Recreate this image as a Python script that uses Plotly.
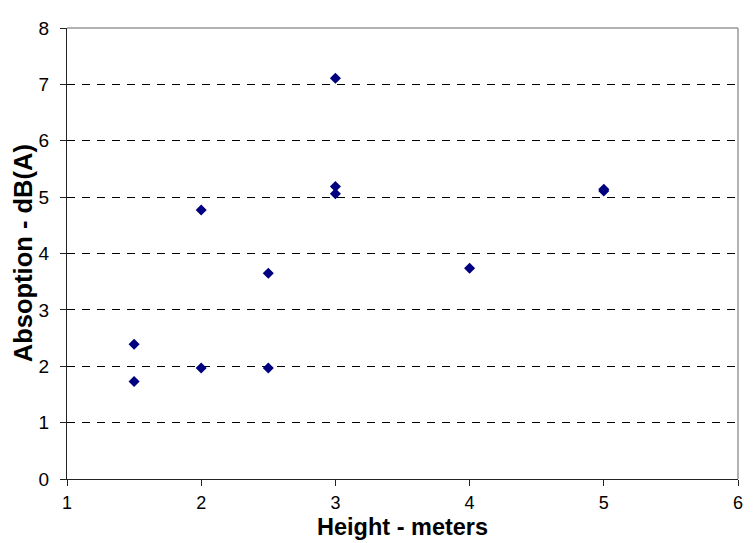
import plotly.graph_objects as go

height_m = [1.5, 1.5, 2, 2, 2.5, 2.5, 3, 3, 3, 4, 5, 5]
absorption_dba = [1.73, 2.39, 1.97, 4.77, 1.97, 3.65, 5.06, 5.19, 7.11, 3.74, 5.11, 5.14]

x_ticks = [1, 2, 3, 4, 5, 6]
y_ticks = [0, 1, 2, 3, 4, 5, 6, 7, 8]

x_title = "Height - meters"
y_title = "Absoption - dB(A)"

FONT = "Arial, Liberation Sans, sans-serif"

fig = go.Figure()
fig.add_trace(go.Scatter(
    x=height_m, y=absorption_dba, mode="markers",
    marker=dict(symbol="diamond", size=8.5, color="#000080", line=dict(width=0)),
    showlegend=False, hoverinfo="x+y",
))

# The page body has an 8px default margin; size the figure so the plot area
# lands at the same place as in the reference (x 67..743, y 19..479).
fig.update_layout(
    width=745, height=535,
    margin=dict(l=59, r=10, t=11, b=64),
    paper_bgcolor="white", plot_bgcolor="white",
    font=dict(family=FONT, size=18, color="black"),
    xaxis=dict(
        range=[1, 6], tickvals=x_ticks, ticktext=[str(v) for v in x_ticks],
        showgrid=False, zeroline=False,
        showline=True, linecolor="#222222", linewidth=1,
        ticks="outside", ticklen=6, tickcolor="#222222", tickwidth=1,
        ticklabelstandoff=1,
        tickfont=dict(family=FONT, size=18, color="black"),
    ),
    yaxis=dict(
        range=[0, 8], tickvals=y_ticks, ticktext=[str(v) for v in y_ticks],
        showgrid=True, gridcolor="#000000", gridwidth=1, griddash="8px,7px",
        zeroline=False,
        showline=True, linecolor="#222222", linewidth=1,
        ticks="outside", ticklen=6, tickcolor="#222222", tickwidth=1,
        ticklabelstandoff=7,
        tickfont=dict(family=FONT, size=19, color="black"),
    ),
    shapes=[
        dict(type="line", xref="paper", yref="paper", x0=0, x1=1, y0=1, y1=1,
             line=dict(color="#999999", width=1.5), layer="above"),
        dict(type="line", xref="paper", yref="paper", x0=1, x1=1, y0=0, y1=1,
             line=dict(color="#999999", width=1.5), layer="above"),
    ],
    annotations=[
        dict(text="<b>%s</b>" % x_title, xref="paper", yref="paper",
             x=0.5, y=-0.107, xanchor="center", yanchor="middle", showarrow=False,
             font=dict(family=FONT, size=23.5, color="black")),
        dict(text="<b>%s</b>" % y_title, xref="paper", yref="paper",
             x=-0.066, y=0.5, xanchor="center", yanchor="middle", showarrow=False,
             textangle=-90, font=dict(family=FONT, size=25.5, color="black")),
    ],
)

fig.write_html("out.html")
